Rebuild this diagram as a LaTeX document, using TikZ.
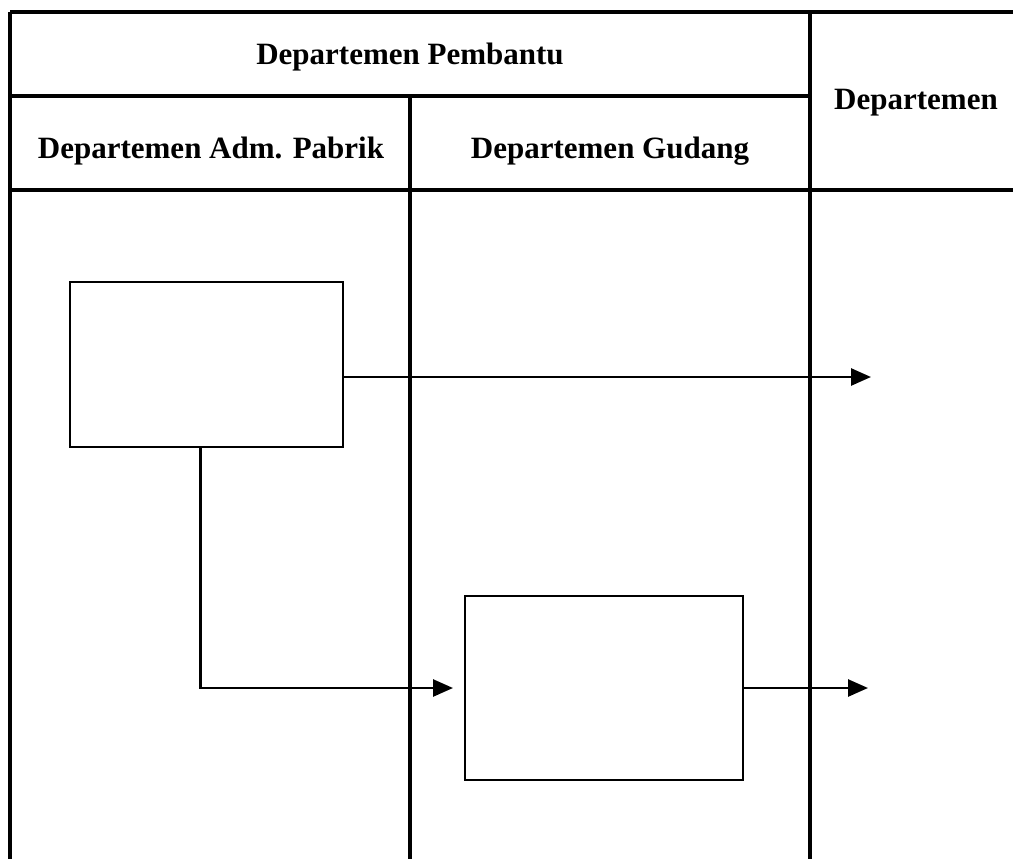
\documentclass[tikz,border=0pt]{standalone}
\usepackage{fontspec}
\setmainfont{Liberation Serif}
\usetikzlibrary{arrows.meta}
\begin{document}
\begin{tikzpicture}[x=1pt,y=-1pt,
  frame/.style={line width=4pt},
  procbox/.style={draw,line width=2.6pt,minimum width=#1,inner sep=0pt},
  flow/.style={line width=2.6pt,-{Triangle[length=20pt,width=17pt]}},
  head/.style={font=\fontsize{31}{36}\selectfont\bfseries,inner sep=0pt,anchor=base}]
\useasboundingbox (0,0) rectangle (1013,859);
\clip (0,0) rectangle (1013,859);
% frame
\draw[frame] (10,12) -- (1013,12);
\draw[frame] (10,12) -- (10,859);
\draw[frame] (10,96) -- (810,96);
\draw[frame] (10,190) -- (1013,190);
\draw[frame] (410,96) -- (410,859);
\draw[frame] (810,12) -- (810,859);
% headers
\node[head] (hp) at (410,65) {Departemen Pembantu};
\node[head] (ha) at (211,158) {Departemen Adm. Pabrik};
\node[head] (hg) at (610,158) {Departemen Gudang};
\node[head] (hd) at (916,110) {Departemen};
% boxes
\node[procbox=273pt,minimum height=165pt] (b1) at (206.5,364.5) {};
\node[procbox=278pt,minimum height=184pt] (b2) at (604,688) {};
% connectors
\coordinate (t1) at (871,377);
\coordinate (t2) at (453,688);
\coordinate (t3) at (868,688);
\draw[flow] (b1.east |- t1) -- (t1);
\draw[flow] ([xshift=-6pt]b1.south) |- (t2);
\draw[flow] (b2.east) -- (t3);
\end{tikzpicture}
\end{document}
